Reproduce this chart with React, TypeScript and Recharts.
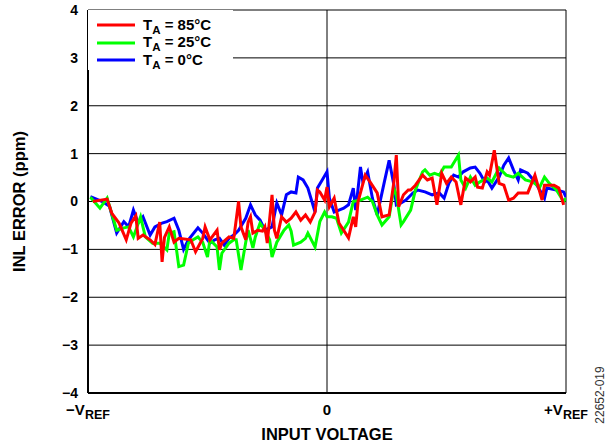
import { CartesianGrid, Legend, Line, LineChart, XAxis, YAxis } from "recharts";

const FONT = '"Liberation Sans", Arial, Helvetica, sans-serif';

// x = input voltage as % of VREF (-100 = -VREF, +100 = +VREF), y = INL error (ppm)
const ta85: [number, number][] = [
  [-98, 0], [-92, 0.05], [-90, -0.25], [-87, -0.45], [-84, -0.8], [-82, -0.45],
  [-80, -0.3], [-79, -0.77], [-77, -0.7], [-74, -0.8], [-72, -0.9], [-70, -0.43],
  [-69, -1.26], [-68, -0.75], [-66, -0.53], [-64, -0.85], [-62, -0.77], [-57, -0.8],
  [-55, -1.05], [-52, -0.77], [-51, -0.53], [-49, -0.8], [-46, -0.6], [-45, -1.01],
  [-44, -0.87], [-41, -0.74], [-39, -0.77], [-37, 0], [-36, -0.53], [-34, -0.8],
  [-33, -0.43], [-32, -0.32], [-31, -0.66], [-29, -0.6], [-27, -0.62], [-26, -0.53],
  [-25, -0.87], [-23, 0.14], [-22, -0.6], [-21, -0.77], [-19, -0.32], [-17, -0.43],
  [-15, -0.35], [-13, -0.22], [-11, -0.39], [-9, -0.28], [-7, -0.43], [-5, -0.22],
  [-4, 0.24], [-3, 0.2], [-1, 0.03], [0, 0.3], [1, -0.11], [3, 0.07], [5, -0.45],
  [9, -0.76], [11, -0.32], [12, -0.53], [13, 0], [16, 0.55], [18, 0.41], [21, 0.18],
  [23, -0.32], [26, -0.28], [28, 0.41], [29, 0.97], [30, -0.11], [32, 0.14],
  [34, 0.24], [35, 0.24], [37, 0.34], [40, 0.55], [42, 0.45], [44, 0.49], [46, -0.07],
  [48, 0.59], [50, 0.38], [52, 0.51], [54, 0.41], [56, -0.07], [58, 0.49], [60, 0.41],
  [62, 0.51], [63, 0.3], [65, 0.28], [67, 0.62], [68, 0.55], [70, 1.07], [72, 0.38],
  [74, 0.34], [76, 0.03], [78, 0.07], [80, 0.18], [84, 0.18], [87, 0.55], [90, 0.03],
  [91, 0.34], [95, 0.34], [97, 0.28], [99, -0.07],
];

const ta25: [number, number][] = [
  [-99, 0.09], [-95, -0.14], [-92, 0.07], [-88, -0.6], [-85, -0.55], [-83, -0.53],
  [-81, -0.74], [-78, -0.32], [-76, -0.74], [-73, -0.87], [-70, -0.87], [-67, -1.01],
  [-66, -0.66], [-64, -0.63], [-62, -1.36], [-60, -1.33], [-58, -0.87], [-56, -0.8],
  [-54, -0.74], [-52, -0.85], [-50, -1.16], [-49, -0.8], [-46, -0.95], [-45, -1.43],
  [-44, -1.08], [-41, -0.87], [-39, -0.8], [-38, -0.8], [-36, -1.43], [-34, -0.85],
  [-33, -0.6], [-31, -0.97], [-30, -0.74], [-28, -0.45], [-26, -0.6], [-24, -0.8],
  [-23, -1.16], [-21, -0.85], [-18, -0.6], [-16, -0.49], [-15, -0.62], [-14, -0.91],
  [-11, -0.85], [-9, -0.77], [-8, -0.66], [-5, -0.95], [-3, -0.42], [-1, -0.22],
  [0, -0.32], [2, -0.32], [4, -0.35], [6, -0.66], [9, -0.43], [11, 0], [14, 0.03],
  [17, 0.09], [19, 0], [21, -0.28], [23, -0.49], [26, -0.32], [28, 0.28], [29, 0.14],
  [31, -0.49], [32, -0.42], [35, -0.18], [37, 0.24], [40, 0.62], [41, 0.66],
  [43, 0.55], [45, 0.59], [47, 0.55], [49, 0.72], [52, 0.72], [55, 0.97], [56, 0.45],
  [58, 0.28], [60, 0.51], [62, 0.34], [64, 0.41], [67, 0.49], [69, 0.41], [72, 0.7],
  [75, 0.55], [78, 0.51], [80, 0.59], [83, 0.45], [86, 0.41], [89, 0.3], [91, 0.51],
  [93, 0.38], [96, 0.24], [99, 0], [100, 0.07],
];

const ta0: [number, number][] = [
  [-99, 0.1], [-94, 0], [-91, -0.1], [-88, -0.66], [-85, -0.42], [-83, -0.53],
  [-81, -0.18], [-79, -0.45], [-77, -0.32], [-74, -0.7], [-72, -0.53], [-69, -0.45],
  [-67, -0.42], [-64, -0.35], [-62, -0.6], [-60, -1.0], [-58, -0.8], [-54, -0.55],
  [-52, -0.66], [-49, -0.87], [-47, -0.8], [-45, -0.77], [-43, -0.91], [-41, -0.77],
  [-39, -0.7], [-37, -0.6], [-34, -0.35], [-32, -0.07], [-30, -0.28], [-28, -0.39],
  [-26, -0.6], [-23, -0.53], [-21, -0.03], [-19, -0.28], [-17, 0.14], [-15, 0.2],
  [-13, 0.18], [-12, 0.51], [-10, 0.45], [-8, 0.28], [-5, -0.22], [-4, 0.28],
  [-2, 0.45], [0, 0.62], [1, 0.07], [3, -0.22], [7, -0.14], [9, -0.07], [11, 0.28],
  [12, -0.18], [14, 0.72], [15, 0.41], [17, 0.62], [19, 0.07], [21, -0.28], [24, 0.41],
  [26, 0.86], [28, 0.34], [29, -0.07], [31, -0.03], [33, 0.03], [36, 0.18], [38, 0.24],
  [41, 0.2], [44, 0.14], [47, 0.18], [49, 0.07], [51, 0.38], [53, 0.55], [55, 0.51],
  [57, 0.62], [60, 0.7], [62, 0.72], [64, 0.59], [66, 0.41], [67, 0.45], [69, 0.28],
  [72, 0.51], [74, 0.76], [76, 0.91], [78, 0.66], [80, 0.45], [81, 0.66], [84, 0.59],
  [87, 0.41], [89, 0.24], [91, 0.07], [92, 0.28], [96, 0.24], [99, 0.2], [100, 0.09],
];

const xTicks = [-100, 0, 100];
const xTickMain: Record<string, string> = { "-100": "\u2212V", "0": "0", "100": "+V" };
const xTickSub: Record<string, string> = { "-100": "REF", "0": "", "100": "REF" };
const yTicks = [-4, -3, -2, -1, 0, 1, 2, 3, 4];

// legend order (top to bottom)
const series = [
  { key: "ta85", temp: "85°C", color: "#ff0000", points: ta85 },
  { key: "ta25", temp: "25°C", color: "#00ff00", points: ta25 },
  { key: "ta0", temp: "0°C", color: "#0000ff", points: ta0 },
];

function VrefTick({ x, y, payload }: any) {
  const k = String(payload.value);
  return (
    <text x={x} y={y + 22} textAnchor="middle" fontFamily={FONT} fontWeight="bold" fontSize={15} fill="#000">
      {xTickMain[k]}
      {xTickSub[k] ? (
        <tspan fontSize={12.5} dy={4}>
          {xTickSub[k]}
        </tspan>
      ) : null}
    </text>
  );
}

function TempLegend() {
  return (
    <div style={{ position: "relative", background: "#fff", width: 145, height: 60, fontFamily: FONT, fontWeight: "bold", fontSize: 15, color: "#000" }}>
      {series.map((s, i) => (
        <div key={s.key} style={{ position: "absolute", left: 9, top: 6 + i * 17.5, height: 18, display: "flex", alignItems: "center" }}>
          <svg width={38} height={4} style={{ display: "block" }}>
            <line x1={0} y1={2} x2={38} y2={2} stroke={s.color} strokeWidth={3} />
          </svg>
          <span style={{ marginLeft: 8, whiteSpace: "nowrap", lineHeight: "18px" }}>
            T<span style={{ fontSize: 11.5, position: "relative", top: 4 }}>A</span> = {s.temp}
          </span>
        </div>
      ))}
    </div>
  );
}

export default function App() {
  return (
    <div style={{ position: "absolute", left: 0, top: 0, background: "#fff" }}>
      <LineChart width={614} height={446} margin={{ top: 10, right: 48, bottom: 0, left: 0 }}>
        <CartesianGrid stroke="#000" strokeWidth={1} />
        <XAxis
          type="number"
          dataKey="x"
          domain={[-100, 100]}
          ticks={xTicks}
          height={53}
          tickSize={0}
          tickMargin={0}
          tick={<VrefTick />}
          axisLine={{ stroke: "#000", strokeWidth: 2 }}
          allowDataOverflow
          label={{
            content: ({ viewBox }: any) => (
              <g>
                <text x={viewBox.x + viewBox.width / 2} y={viewBox.y + 47} textAnchor="middle" fontFamily={FONT} fontWeight="bold" fontSize={16.5} fill="#000">
                  INPUT VOLTAGE
                </text>
                <text x={604} y={395} transform="rotate(-90 604 395)" textAnchor="middle" fontFamily={FONT} fontSize={12} fill="#333">
                  22652-019
                </text>
              </g>
            ),
          }}
        />
        <YAxis
          type="number"
          dataKey="y"
          domain={[-4, 4]}
          ticks={yTicks}
          width={88}
          tickSize={0}
          tickMargin={10}
          tickFormatter={(v: number) => (v < 0 ? `\u2212${Math.abs(v)}` : String(v))}
          tick={{ fill: "#000", fontSize: 14, fontWeight: "bold", fontFamily: FONT }}
          axisLine={{ stroke: "#000", strokeWidth: 2 }}
          label={{
            content: ({ viewBox }: any) => (
              <text x={25} y={viewBox.y + viewBox.height / 2} transform={`rotate(-90 25 ${viewBox.y + viewBox.height / 2})`} textAnchor="middle" fontFamily={FONT} fontWeight="bold" fontSize={16.5} fill="#000">
                INL ERROR (ppm)
              </text>
            ),
          }}
        />
        <Legend
          layout="vertical"
          align="center"
          verticalAlign="middle"
          content={<TempLegend />}
          wrapperStyle={{ left: 88, top: 10, width: 145, height: 60 }}
        />
        {[...series].reverse().map((s) => (
          <Line
            key={s.key}
            data={s.points.map(([x, y]) => ({ x, y }))}
            dataKey="y"
            type="linear"
            stroke={s.color}
            strokeWidth={3}
            dot={false}
            activeDot={false}
            isAnimationActive={false}
          />
        ))}
      </LineChart>
    </div>
  );
}
